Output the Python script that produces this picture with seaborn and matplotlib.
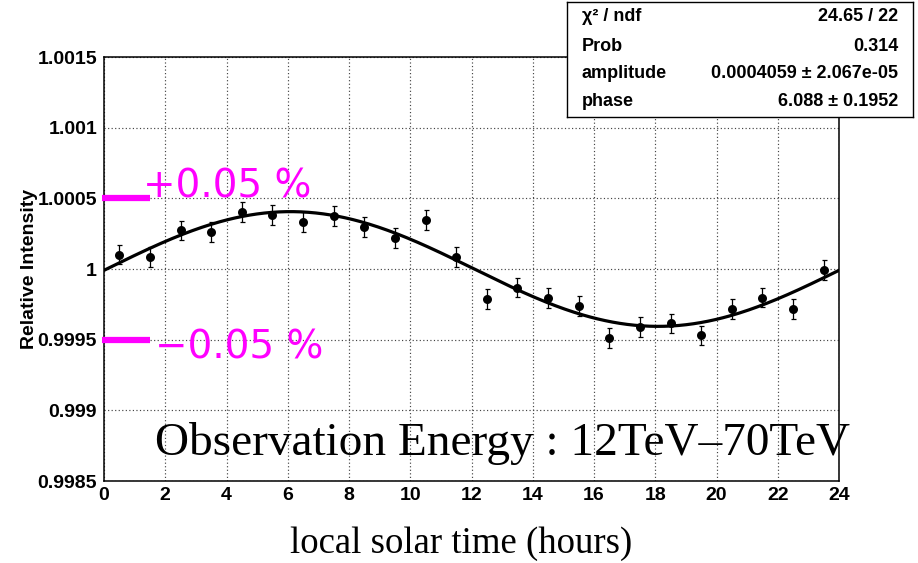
import numpy as np
import pandas as pd
import seaborn as sns
import matplotlib.pyplot as plt
import matplotlib.ticker as mticker

# ---- data -------------------------------------------------------------
hours = [0.5, 1.5, 2.5, 3.5, 4.5, 5.5, 6.5, 7.5, 8.5, 9.5, 10.5, 11.5,
         12.5, 13.5, 14.5, 15.5, 16.5, 17.5, 18.5, 19.5, 20.5, 21.5, 22.5, 23.5]
intensity = [1.000102, 1.000083, 1.000273, 1.000261, 1.000401, 1.000384,
             1.000335, 1.000375, 1.000296, 1.000218, 1.000344, 1.000083,
             0.999786, 0.999869, 0.999793, 0.999739, 0.999513, 0.999589,
             0.999615, 0.999530, 0.999715, 0.999798, 0.999719, 0.999993]
errors = [0.00007, 0.00007, 0.00007, 0.00007, 0.00007, 0.00007,
          0.00007, 0.00007, 0.00007, 0.00007, 0.00007, 0.00007,
          0.00007, 0.00007, 0.00007, 0.00007, 0.00007, 0.00007,
          0.00007, 0.00007, 0.00007, 0.00007, 0.00007, 0.00007]

# sinusoidal fit result (period 24 h)
amplitude = 0.0004059
phase = 6.088
stat_names = ["\u03c7\u00b2 / ndf", "Prob", "amplitude", "phase"]
stat_values = ["24.65 / 22", "0.314", "0.0004059 \u00b1 2.067e-05", "6.088 \u00b1 0.1952"]

x_ticks = [0, 2, 4, 6, 8, 10, 12, 14, 16, 18, 20, 22, 24]
y_ticks = [0.9985, 0.999, 0.9995, 1.0, 1.0005, 1.001, 1.0015]
y_tick_labels = ["0.9985", "0.999", "0.9995", "1", "1.0005", "1.001", "1.0015"]

# ---- figure -----------------------------------------------------------
sns.set_theme(style="white")
plt.rcParams["font.family"] = ["Liberation Sans", "DejaVu Sans"]
plt.rcParams["text.color"] = "black"
plt.rcParams["axes.labelcolor"] = "black"
plt.rcParams["xtick.color"] = "black"
plt.rcParams["ytick.color"] = "black"

W, H = 918, 563
fig = plt.figure(figsize=(W / 100, H / 100), dpi=100)
fig.patch.set_facecolor("white")
ax = fig.add_axes([104 / W, 82 / H, 735 / W, 424 / H])
ax.set_facecolor("white")

df = pd.DataFrame({"hour": hours, "intensity": intensity, "err": errors})
t = np.linspace(0, 24, 400)
fit = pd.DataFrame({"hour": t,
                    "intensity": 1 + amplitude * np.cos(2 * np.pi * (t - phase) / 24)})

ax.errorbar(df["hour"], df["intensity"], yerr=df["err"], fmt="none",
            ecolor="black", elinewidth=0.9, capsize=1.8, capthick=0.9, zorder=3)
sns.scatterplot(data=df, x="hour", y="intensity", ax=ax, color="black",
                s=42, edgecolor="black", linewidth=0, zorder=4, legend=False)
sns.lineplot(data=fit, x="hour", y="intensity", ax=ax, color="black",
             linewidth=2.3, zorder=5, legend=False)

ax.set_xlim(0, 24)
ax.set_ylim(0.9985, 1.0015)
ax.xaxis.set_major_locator(mticker.FixedLocator(x_ticks))
ax.xaxis.set_minor_locator(mticker.MultipleLocator(0.5))
ax.yaxis.set_major_locator(mticker.FixedLocator(y_ticks))
ax.yaxis.set_major_formatter(mticker.FixedFormatter(y_tick_labels))
ax.yaxis.set_minor_locator(mticker.MultipleLocator(0.0001))

for lab in ax.get_xticklabels() + ax.get_yticklabels():
    lab.set_fontsize(14)
    lab.set_fontweight("bold")
    lab.set_color("black")

ax.tick_params(axis="both", which="both", direction="in", colors="black",
               top=False, right=False, width=1.0)
ax.tick_params(axis="y", which="major", length=15, pad=5)
ax.tick_params(axis="y", which="minor", length=8.4)
ax.tick_params(axis="x", which="major", length=8.6, pad=4)
ax.tick_params(axis="x", which="minor", length=4.7)

ax.grid(True, which="major", color="#444444", linestyle=(0, (1, 2)), linewidth=0.85)
for sp in ax.spines.values():
    sp.set_visible(True)
    sp.set_color("black")
    sp.set_linewidth(1.1)

ax.set_xlabel("local solar time (hours)", fontsize=26.5, color="black",
              family=["Liberation Serif", "DejaVu Serif"], va="top")
ax.xaxis.set_label_coords(0.486, -0.108)
ax.set_ylabel("Relative Intensity", fontsize=14, fontweight="bold", color="black")
ax.yaxis.set_label_coords(-0.09, 0.5)

# +/- 0.05 % markers
mag = "#ff00ff"
for level in (1.0005, 0.9995):
    ax.plot([-0.08, 1.5], [level, level], color=mag, linewidth=4.5,
            solid_capstyle="butt", clip_on=False, zorder=6)
ax.text(1.27, 1.000508, "+0.05 %", color=mag, fontsize=28,
        family=["DejaVu Sans"], va="baseline", ha="left", zorder=6)
ax.text(1.67, 0.999368, "\u22120.05 %", color=mag, fontsize=28,
        family=["DejaVu Sans"], va="baseline", ha="left", zorder=6)

ax.text(0.0694, 0.0613, "Observation Energy : 12TeV\u201370TeV",
        transform=ax.transAxes, fontsize=34, color="black",
        family=["Liberation Serif", "DejaVu Serif"],
        va="baseline", ha="left", clip_on=False, zorder=6)

# fit statistics box
bx = fig.add_axes([567 / W, (563 - 117) / H, 346 / W, 115 / H], zorder=10)
bx.set_facecolor("white")
bx.set_xticks([])
bx.set_yticks([])
for sp in bx.spines.values():
    sp.set_visible(True)
    sp.set_color("black")
    sp.set_linewidth(1.0)
row_y = [0.87, 0.617, 0.374, 0.139]
for yy, name, val in zip(row_y, stat_names, stat_values):
    bx.text(0.043, yy, name, transform=bx.transAxes, fontsize=13, color="black",
            fontweight="bold", ha="left", va="center")
    bx.text(0.957, yy, val, transform=bx.transAxes, fontsize=13, color="black",
            fontweight="bold", ha="right", va="center")

fig.savefig("out.png", dpi=100, facecolor="white")
